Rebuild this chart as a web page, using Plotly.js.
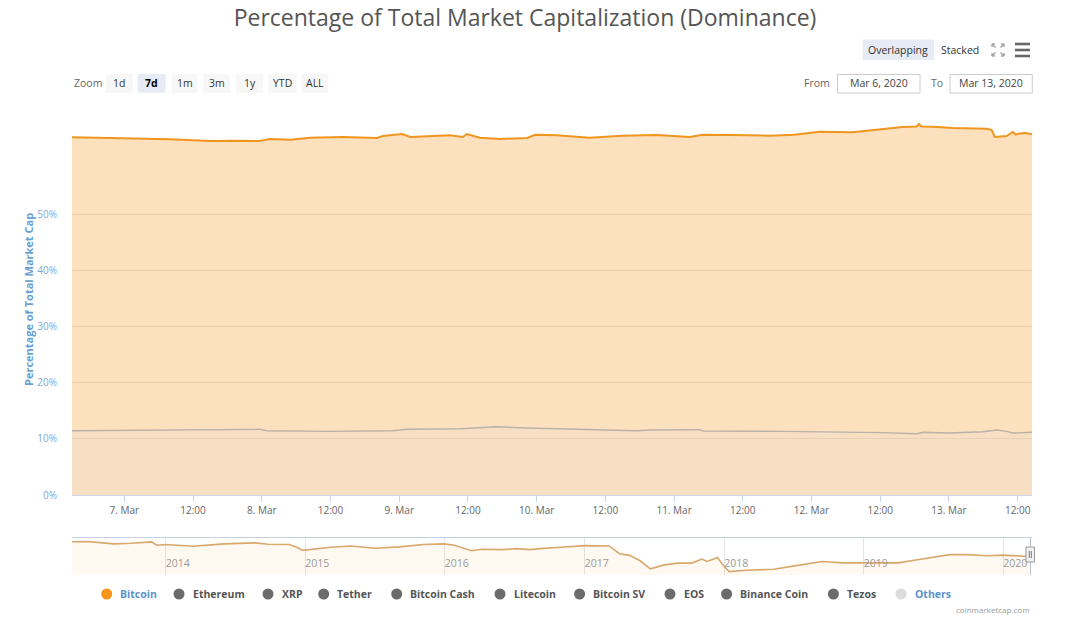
<!DOCTYPE html>
<html><head><meta charset="utf-8">
<script src="https://cdn.plot.ly/plotly-3.0.1.min.js"></script>
<style>html,body{margin:0;padding:0;background:#fff}#chart{width:1080px;height:622px}</style>
</head><body><div id="chart"></div><script>
// ---------- data ----------
const btcTimes = ['2020-03-06 14:52','2020-03-06 23:15','2020-03-07 04:00','2020-03-07 08:00','2020-03-07 11:00','2020-03-07 15:00','2020-03-07 19:00','2020-03-07 23:40','2020-03-08 01:25','2020-03-08 05:00','2020-03-08 08:25','2020-03-08 14:10','2020-03-08 20:05','2020-03-08 21:10','2020-03-09 00:30','2020-03-09 01:55','2020-03-09 05:00','2020-03-09 08:50','2020-03-09 11:05','2020-03-09 11:50','2020-03-09 14:05','2020-03-09 17:35','2020-03-09 22:20','2020-03-09 23:45','2020-03-10 03:30','2020-03-10 09:15','2020-03-10 15:00','2020-03-10 21:00','2020-03-11 02:45','2020-03-11 05:00','2020-03-11 09:40','2020-03-11 16:40','2020-03-11 21:00','2020-03-12 01:25','2020-03-12 07:10','2020-03-12 13:05','2020-03-12 15:55','2020-03-12 18:20','2020-03-12 18:45','2020-03-12 19:10','2020-03-12 21:10','2020-03-13 00:40','2020-03-13 03:00','2020-03-13 06:35','2020-03-13 07:28','2020-03-13 08:00','2020-03-13 09:00','2020-03-13 10:05','2020-03-13 11:08','2020-03-13 11:40','2020-03-13 12:21','2020-03-13 13:25','2020-03-13 14:30'];
const btcValues = [63.65,63.47,63.47,63.29,63.17,62.99,63.05,62.99,63.35,63.23,63.58,63.70,63.52,63.88,64.23,63.70,63.85,64.00,63.70,64.23,63.58,63.35,63.52,64.11,64.00,63.58,63.93,64.06,63.70,64.11,64.06,63.93,64.11,64.64,64.54,65.12,65.48,65.57,66.01,65.57,65.53,65.30,65.25,65.18,64.95,63.70,63.79,63.88,64.59,64.14,64.32,64.41,64.18];

const ethTimes = ['2020-03-06 14:52','2020-03-07 08:00','2020-03-07 17:55','2020-03-07 23:40','2020-03-08 00:55','2020-03-08 11:25','2020-03-08 22:55','2020-03-09 01:20','2020-03-09 10:35','2020-03-09 16:25','2020-03-09 17:00','2020-03-09 22:20','2020-03-10 04:00','2020-03-10 09:15','2020-03-10 17:30','2020-03-10 19:45','2020-03-11 04:30','2020-03-11 05:00','2020-03-11 19:00','2020-03-12 12:25','2020-03-12 18:25','2020-03-12 19:25','2020-03-13 00:05','2020-03-13 05:55','2020-03-13 08:20','2020-03-13 10:05','2020-03-13 11:05','2020-03-13 14:30'];
const ethValues = [11.42,11.57,11.69,11.69,11.44,11.33,11.44,11.69,11.80,12.05,12.15,11.92,11.74,11.57,11.44,11.57,11.62,11.39,11.33,11.09,10.91,11.16,11.03,11.26,11.57,11.33,11.03,11.16];

const navDates = ['2013-04-28','2013-06-07','2013-07-22','2013-08-18','2013-10-02','2013-11-07','2013-11-25','2013-12-09','2014-01-01','2014-03-13','2014-06-02','2014-08-22','2014-09-27','2014-11-20','2014-12-08','2014-12-26','2015-01-13','2015-03-08','2015-05-01','2015-07-03','2015-09-04','2015-11-06','2015-12-30','2016-01-26','2016-03-11','2016-04-07','2016-06-01','2016-07-06','2016-08-11','2016-09-06','2016-10-30','2016-12-31','2017-03-06','2017-04-02','2017-04-29','2017-05-26','2017-06-22','2017-07-28','2017-09-02','2017-10-08','2017-11-04','2017-11-17','2017-12-01','2017-12-14','2018-01-01','2018-01-14','2018-02-28','2018-05-11','2018-07-04','2018-09-14','2018-11-07','2018-12-31','2019-04-01','2019-05-25','2019-08-14','2019-09-27','2019-11-20','2019-12-31','2020-03-07','2020-03-13'];
const navValues = [95.0,95.6,92.8,90.7,92.1,94.2,95.0,87.9,89.3,85.8,90.7,92.8,89.9,89.3,84.4,77.2,78.7,83.6,86.4,81.5,84.4,89.3,90.7,87.9,76.6,79.5,78.7,80.9,78.7,80.9,83.6,87.2,86.4,70.3,66.8,55.6,38.7,47.0,50.7,50.7,59.1,54.2,58.3,62.6,43.6,33.0,35.8,38.1,45.0,54.2,51.3,51.3,51.3,58.3,68.3,68.3,66.0,67.4,63.6,64.2];

const xTickVals = ['2020-03-07 00:00','2020-03-07 12:00','2020-03-08 00:00','2020-03-08 12:00','2020-03-09 00:00','2020-03-09 12:00','2020-03-10 00:00','2020-03-10 12:00','2020-03-11 00:00','2020-03-11 12:00','2020-03-12 00:00','2020-03-12 12:00','2020-03-13 00:00','2020-03-13 12:00'];
const xTickText = ['7. Mar','12:00','8. Mar','12:00','9. Mar','12:00','10. Mar','12:00','11. Mar','12:00','12. Mar','12:00','13. Mar','12:00'];
const yTickVals = [0,10,20,30,40,50];
const yTickText = ['0%','10%','20%','30%','40%','50%'];
const navTickVals = ['2014-01-01','2015-01-01','2016-01-01','2017-01-01','2018-01-01','2019-01-01','2020-01-01'];
const navTickText = ['2014','2015','2016','2017','2018','2019','2020'];
const zoomButtons = ['1d','7d','1m','3m','1y','YTD','ALL'];
const legendNames = ['Bitcoin','Ethereum','XRP','Tether','Bitcoin Cash','Litecoin','Bitcoin SV','EOS','Binance Coin','Tezos','Others'];

// ---------- layout helpers (pixel -> paper) ----------
const ML = 72, MR = 48, MT = 115, MB = 47, W = 1080, H = 622;
const PW = W - ML - MR, PH = H - MT - MB;
const px = x => (x - ML) / PW;
const py = y => (H - MB - y) / PH;
const FONT = '"Open Sans", "Noto Sans", sans-serif';

const shapes = [];
const annotations = [];
function rect(x0, y0, x1, y1, fill, line, lw) {
  shapes.push({type:'rect', xref:'paper', yref:'paper', x0:px(x0), x1:px(x1), y0:py(y1), y1:py(y0),
    fillcolor: fill, line:{color: line || 'rgba(0,0,0,0)', width: lw || 0}, layer:'above'});
}
function seg(x0, y0, x1, y1, color, w) {
  shapes.push({type:'line', xref:'paper', yref:'paper', x0:px(x0), x1:px(x1), y0:py(y0), y1:py(y1),
    line:{color: color, width: w}, layer:'above'});
}
function txt(text, x, y, size, color, xanchor, weight) {
  annotations.push({text: text, xref:'paper', yref:'paper', x:px(x), y:py(y), showarrow:false,
    xanchor: xanchor || 'center', yanchor:'middle', font:{family:FONT, size:size, color:color, weight: weight || 'normal'}});
}

// zoom buttons
txt('Zoom', 71.5, 83.5, 10.5, '#666', 'left');
const btnL = [106, 137.7, 171.7, 203.3, 236, 268.3, 301.7];
const btnR = [132.7, 165.7, 197.3, 230, 263.3, 296.7, 328.3];
zoomButtons.forEach((b, i) => {
  const sel = b === '7d';
  rect(btnL[i], 74, btnR[i], 92.7, sel ? '#e6ebf5' : '#f7f7f7');
  txt(b, (btnL[i] + btnR[i]) / 2, 83.5, 10.5, sel ? '#000' : '#333', 'center', sel ? 'bold' : 'normal');
});

// overlapping / stacked
rect(862.7, 39.5, 934, 60, '#e6ebf5');
txt('Overlapping', 898.3, 50, 10.5, '#333');
txt('Stacked', 960, 50, 10.5, '#333');
// fullscreen icon
const fc = [998, 50];
[[-1,-1],[1,-1],[-1,1],[1,1]].forEach(([sx, sy]) => {
  const cx = fc[0] + sx * 6, cy = fc[1] + sy * 6;
  seg(cx, cy, cx - sx * 3, cy, '#999', 1.2);
  seg(cx, cy, cx, cy - sy * 3, '#999', 1.2);
  seg(cx, cy, cx - sx * 3.5, cy - sy * 3.5, '#999', 1.2);
});
// hamburger
[44, 50, 56].forEach(y => seg(1015, y, 1030, y, '#666', 2.6));

// from / to
txt('From', 817, 82.5, 10.5, '#666');
rect(837.5, 74.5, 920, 93, '#fff', '#cccccc', 1);
txt('Mar 6, 2020', 878.7, 83.5, 10.5, '#444');
txt('To', 937, 82.5, 10.5, '#666');
rect(950, 74.5, 1032.3, 93, '#fff', '#cccccc', 1);
txt('Mar 13, 2020', 991.2, 83.5, 10.5, '#444');

// y-axis title
annotations.push({text:'Percentage of Total Market Cap', xref:'paper', yref:'paper', x:px(28), y:py(300),
  showarrow:false, textangle:-90, xanchor:'center', yanchor:'middle',
  font:{family:FONT, size:11, color:'#6a9fd6', weight:'bold'}});

// navigator decorations
seg(72, 537.5, 1032, 537.5, '#c5cfdf', 1);
seg(1030.5, 537.5, 1030.5, 575, '#b7c0cf', 1);
rect(1026, 547, 1034.5, 562, '#f2f2f2', '#999', 1);
seg(1029.3, 551, 1029.3, 558, '#777', 1);
seg(1031.3, 551, 1031.3, 558, '#777', 1);

// legend
const legX = [106.7, 179, 268, 323.7, 396.7, 500, 579.6, 670, 726.6, 833.4, 901];
const legMarker = n => n === 'Bitcoin' ? '#f7931a' : (n === 'Others' ? '#dcdcdc' : '#6b6b6b');
const legText = n => (n === 'Bitcoin' || n === 'Others') ? '#5a93cc' : '#555';
legendNames.forEach((n, i) => {
  const cx = legX[i], cy = 594;
  shapes.push({type:'circle', xref:'paper', yref:'paper', x0:px(cx-5.5), x1:px(cx+5.5), y0:py(cy+5.5), y1:py(cy-5.5),
    fillcolor: legMarker(n), line:{width:0}, layer:'above'});
  txt(n, cx + 11.5, cy, 10.5, legText(n), 'left', 'bold');
});

// credits
txt('coinmarketcap.com', 1032, 609.5, 8, '#999', 'right');

// ---------- traces ----------
const traces = [
  {x: btcTimes, y: btcValues, type:'scatter', mode:'lines', name:'Bitcoin', fill:'tozeroy',
   line:{color:'#f0951f', width:2}, fillcolor:'rgba(247,147,26,0.28)', xaxis:'x', yaxis:'y'},
  {x: ethTimes, y: ethValues, type:'scatter', mode:'lines', name:'Ethereum', fill:'tozeroy',
   line:{color:'rgba(175,168,165,0.85)', width:1.4}, fillcolor:'rgba(215,215,228,0.15)', xaxis:'x', yaxis:'y'},
  {x: navDates, y: navValues, type:'scatter', mode:'lines', name:'Bitcoin nav', fill:'tozeroy',
   line:{color:'#d8a86c', width:1.6}, fillcolor:'rgba(247,147,26,0.06)', xaxis:'x2', yaxis:'y2'}
];

const layout = {
  width: W, height: H,
  margin: {l: ML, r: MR, t: MT, b: MB},
  paper_bgcolor: '#fff', plot_bgcolor: 'rgba(0,0,0,0)',
  showlegend: false,
  font: {family: FONT},
  title: {text: 'Percentage of Total Market Capitalization (Dominance)', xref:'container', yref:'container',
    x: 525 / W, y: 1 - 18 / H, xanchor:'center', yanchor:'middle',
    font: {family: FONT, size: 23, color: '#555'}},
  xaxis: {type:'date', domain:[0,1], anchor:'y', range:['2020-03-06 14:52','2020-03-13 14:30'],
    tickmode:'array', tickvals: xTickVals, ticktext: xTickText, showgrid:false, zeroline:false,
    showline:true, linecolor:'#ccd6eb', linewidth:1, ticks:'outside', ticklen:6, tickcolor:'#ccd6eb',
    tickfont:{family:FONT, size:10, color:'#666'}},
  yaxis: {domain:[py(495), 1], anchor:'x', range:[0, (495 - 115) / 5.62],
    tickmode:'array', tickvals: yTickVals, ticktext: yTickText, showgrid:true, gridcolor:'#e6e6e6',
    zeroline:false, showline:false, ticks:'outside', ticklen:12, tickcolor:'rgba(0,0,0,0)',
    tickfont:{family:FONT, size:10, color:'#7ea8d8'}},
  xaxis2: {type:'date', domain:[0,1], anchor:'y2', range:['2013-05-01','2020-03-16'],
    tickmode:'array', tickvals: navTickVals, ticktext: navTickText, showgrid:true, gridcolor:'#e6e6e6',
    zeroline:false, showline:false, ticks:'', ticklabelposition:'inside right',
    tickfont:{family:FONT, size:10.5, color:'#999'}},
  yaxis2: {domain:[0, py(537.5)], anchor:'x2', range:[26, 104], showgrid:false, zeroline:false,
    showticklabels:false, ticks:''},
  shapes: shapes,
  annotations: annotations
};

Plotly.newPlot('chart', traces, layout, {staticPlot:true, displayModeBar:false});
</script></body></html>
